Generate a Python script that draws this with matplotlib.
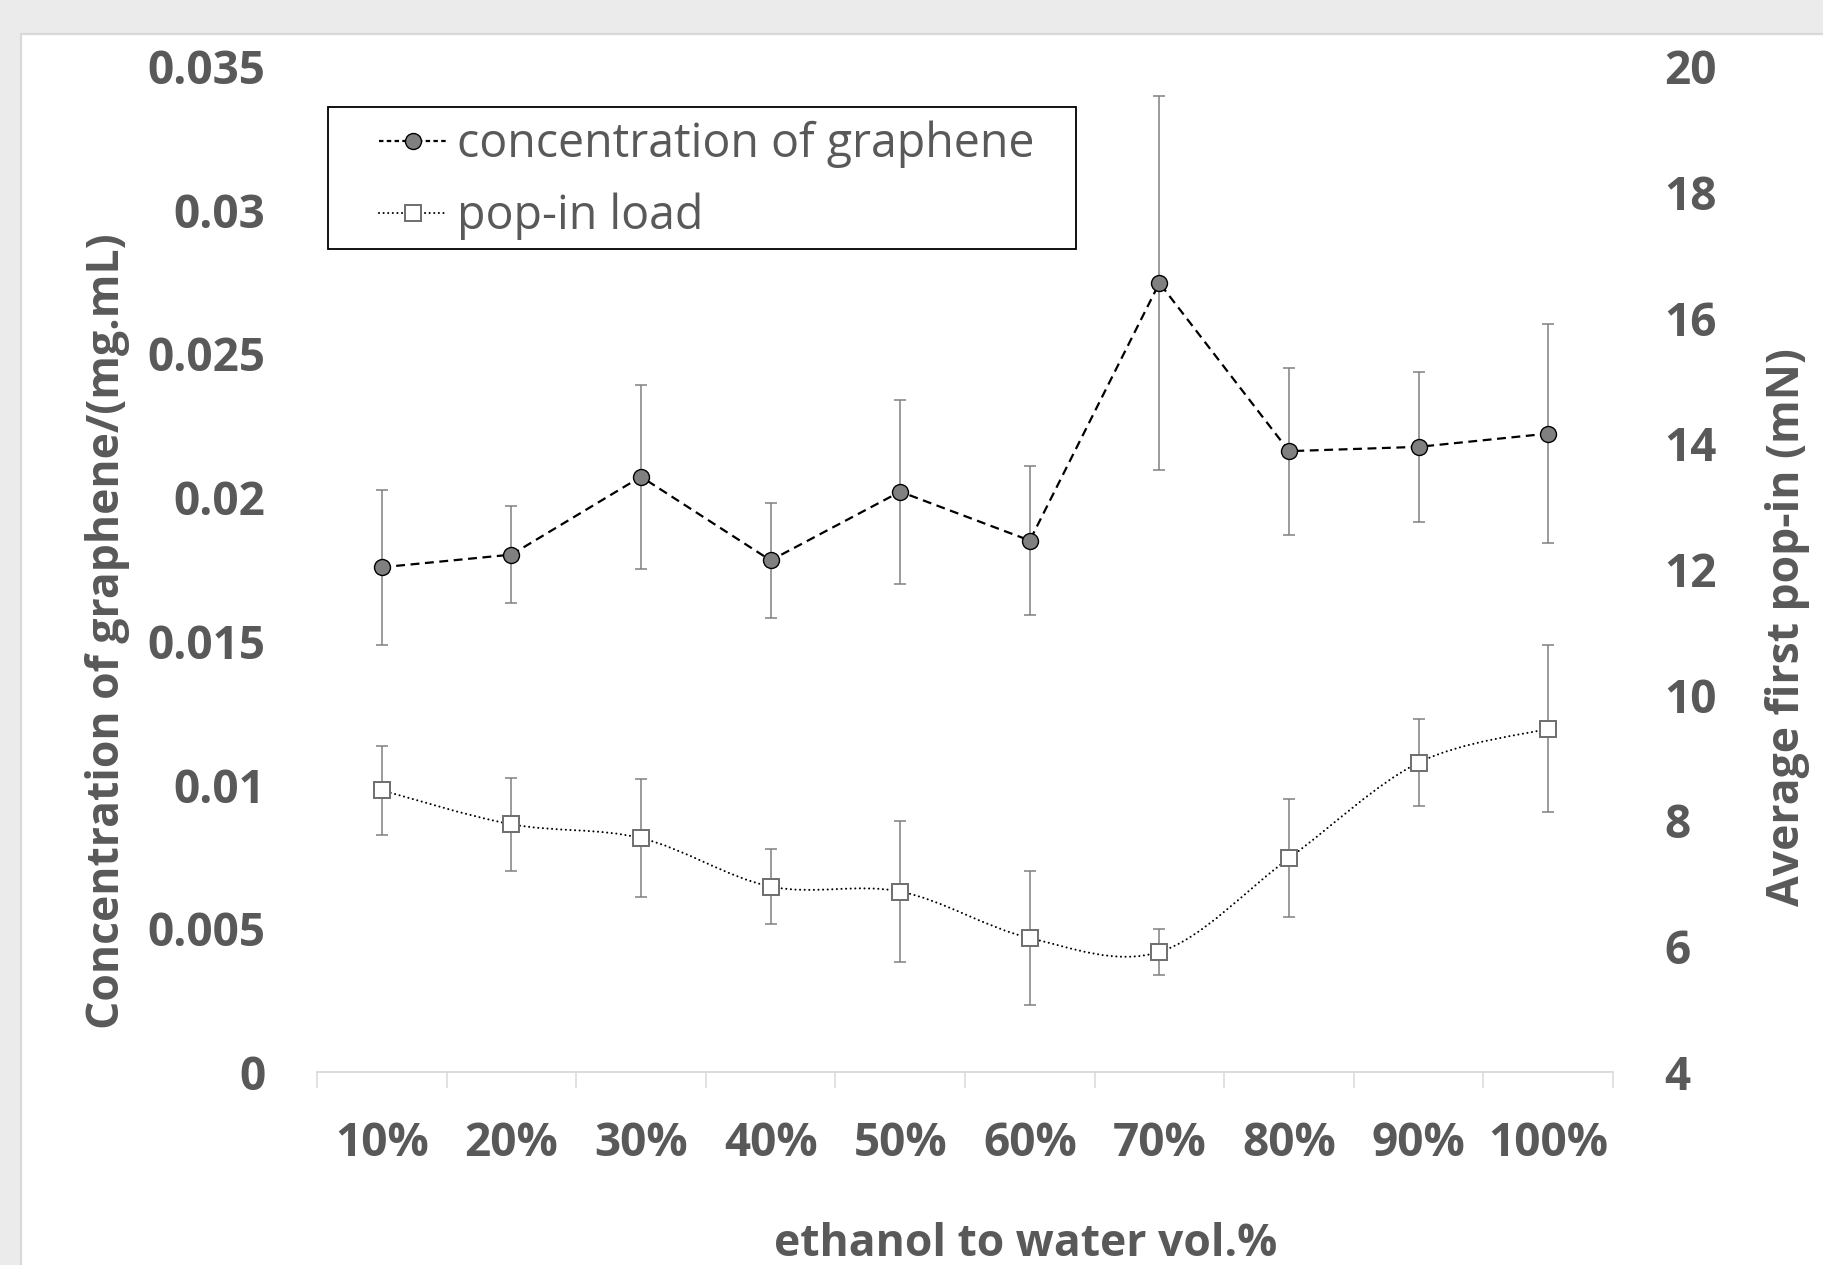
import matplotlib
matplotlib.use("Agg")
import matplotlib.pyplot as plt
import numpy as np
from matplotlib.lines import Line2D
from matplotlib.patches import Rectangle, PathPatch
from matplotlib.path import Path

plt.rcParams['font.family'] = ['Open Sans', 'DejaVu Sans']

# data
categories = ['10%', '20%', '30%', '40%', '50%', '60%', '70%', '80%', '90%', '100%']
graphene = [0.01756, 0.0180, 0.02071, 0.0178, 0.02019, 0.01849, 0.02745, 0.02160, 0.02175, 0.02221]
graphene_err = [0.0027, 0.0017, 0.0032, 0.0020, 0.0032, 0.0026, 0.0065, 0.0029, 0.0026, 0.0038]
popin = [8.48, 7.94, 7.72, 6.95, 6.87, 6.13, 5.91, 7.40, 8.92, 9.46]
popin_err = [0.71, 0.74, 0.94, 0.60, 1.12, 1.07, 0.37, 0.94, 0.69, 1.33]

left_ticks = [0, 0.005, 0.01, 0.015, 0.02, 0.025, 0.03, 0.035]
left_ticklabels = ['0', '0.005', '0.01', '0.015', '0.02', '0.025', '0.03', '0.035']
right_ticks = [4, 6, 8, 10, 12, 14, 16, 18, 20]

TXT = '#595959'
W, H = 1823, 1265

fig = plt.figure(figsize=(W / 100, H / 100), dpi=100, facecolor='#ebebeb')

# white chart panel
fig.patches.append(Rectangle((21 / W, -0.05), 1.1, 1 - 34 / H + 0.05,
                             transform=fig.transFigure, facecolor='white',
                             edgecolor='#d9d9d9', linewidth=1.6, zorder=-10))

ax = fig.add_axes([317 / W, 1 - 1072 / H, (1613 - 317) / W, (1072 - 66) / H])
ax.set_facecolor('none')
ax2 = ax.twinx()

x = np.arange(len(categories))

# graphene concentration (left axis)
ax.errorbar(x, graphene, yerr=graphene_err, fmt='none', ecolor='#808080',
            elinewidth=1.1, capsize=4.5, capthick=1.1, zorder=2)
ax.plot(x, graphene, color='black', lw=1.6, linestyle=(0, (4, 2.5)),
        marker='o', ms=11.5, mfc='#808080', mec='black', mew=1.0, zorder=3)

# pop-in load (right axis), smoothed line like Excel
ax2.errorbar(x, popin, yerr=popin_err, fmt='none', ecolor='#808080',
             elinewidth=1.1, capsize=4.5, capthick=1.1, zorder=2)
pts = np.column_stack([x, popin]).astype(float)
verts = [pts[0]]
codes = [Path.MOVETO]
n = len(pts)
for i in range(n - 1):
    p0 = pts[i - 1] if i > 0 else pts[i]
    p1 = pts[i]
    p2 = pts[i + 1]
    p3 = pts[i + 2] if i + 2 < n else pts[i + 1]
    c1 = p1 + (p2 - p0) / 6
    c2 = p2 - (p3 - p1) / 6
    verts += [c1, c2, p2]
    codes += [Path.CURVE4] * 3
curve = PathPatch(Path(verts, codes), facecolor='none', edgecolor='black',
                  lw=1.5, linestyle=(0, (0.01, 2.2)), capstyle='round', zorder=2.5)
ax2.add_patch(curve)
ax2.plot(x, popin, linestyle='none', marker='s', ms=12, mfc='white',
         mec='#6e6e6e', mew=1.4, zorder=3)

ax.set_xlim(-0.5, 9.5)
ax.set_ylim(0, 0.035)
ax2.set_ylim(4, 20)

ax.set_xticks(x)
ax.set_xticklabels(categories)
ax.set_xticks(np.arange(-0.5, 10, 1), minor=True)
ax.tick_params(axis='x', which='major', length=0, pad=34.5, labelsize=33,
               labelcolor=TXT)
ax.tick_params(axis='x', which='minor', length=11.5, width=1.1, color='#d9d9d9')
for lab in ax.get_xticklabels():
    lab.set_fontweight('bold')

ax.set_yticks(left_ticks)
ax.set_yticklabels(left_ticklabels)
ax.tick_params(axis='y', length=0, pad=37, labelsize=33, labelcolor=TXT)
for lab in ax.get_yticklabels():
    lab.set_fontweight('bold')

ax2.set_yticks(right_ticks)
ax2.tick_params(axis='y', length=0, pad=37, labelsize=33, labelcolor=TXT)
for lab in ax2.get_yticklabels():
    lab.set_fontweight('bold')

for a in (ax, ax2):
    for s in ('left', 'right', 'top', 'bottom'):
        a.spines[s].set_visible(False)
ax.spines['bottom'].set_visible(True)
ax.spines['bottom'].set_color('#d9d9d9')
ax.spines['bottom'].set_linewidth(1.3)

# axis titles
fig.text(1026 / W, 1 - 1256 / H, 'ethanol to water vol.%', ha='center',
         va='baseline', fontsize=32, fontweight='bold', color=TXT)
fig.text(108 / W, 1 - 631 / H, 'Concentration of graphene/(mg.mL)', ha='center',
         va='center', rotation=90, fontsize=32, fontweight='bold', color=TXT)
fig.text(1787 / W, 1 - 627 / H, 'Average first pop-in (mN)', ha='center',
         va='center', rotation=90, fontsize=32, fontweight='bold', color=TXT)

# legend
frame = Rectangle((328 / W, 1 - 249 / H), (1076 - 328) / W, (249 - 107) / H,
                  transform=fig.transFigure, facecolor='white',
                  edgecolor='black', linewidth=1.3, zorder=5, clip_on=False)
ax2.add_artist(frame)
handles = [
    Line2D([], [], color='black', lw=1.6, linestyle=(0, (2, 1.5)), marker='o',
           ms=11.5, mfc='#808080', mec='black', mew=1.0),
    Line2D([], [], color='black', lw=1.5, linestyle=(0, (0.01, 2.2)),
           dash_capstyle='round', marker='s', ms=12, mfc='white', mec='#6e6e6e',
           mew=1.4),
]
leg = ax2.legend(handles, ['concentration of graphene', 'pop-in load'],
                 loc='upper left', bbox_to_anchor=(379 / W, 1 - 121 / H),
                 bbox_transform=fig.transFigure, frameon=False, fontsize=33.5,
                 handlelength=1.47, handletextpad=0.21, borderpad=0,
                 borderaxespad=0, labelspacing=0.52, numpoints=1)
leg.set_zorder(6)
for t in leg.get_texts():
    t.set_color(TXT)

fig.savefig('out.png', dpi=100, facecolor=fig.get_facecolor())
